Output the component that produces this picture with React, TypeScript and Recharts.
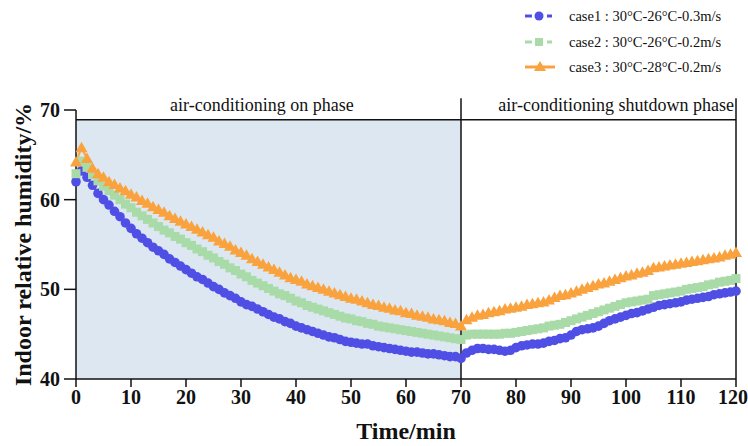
import React from "react";
import {
  LineChart,
  Line,
  XAxis,
  YAxis,
  ReferenceArea,
  ReferenceLine,
  Label,
} from "recharts";

const minutes = [
  0, 1, 2, 3, 4, 5, 6, 7, 8, 9, 10, 11, 12, 13, 14, 15, 16, 17, 18, 19, 20,
  21, 22, 23, 24, 25, 26, 27, 28, 29, 30, 31, 32, 33, 34, 35, 36, 37, 38, 39, 40,
  41, 42, 43, 44, 45, 46, 47, 48, 49, 50, 51, 52, 53, 54, 55, 56, 57, 58, 59, 60,
  61, 62, 63, 64, 65, 66, 67, 68, 69, 70, 71, 72, 73, 74, 75, 76, 77, 78, 79, 80,
  81, 82, 83, 84, 85, 86, 87, 88, 89, 90, 91, 92, 93, 94, 95, 96, 97, 98, 99, 100,
  101, 102, 103, 104, 105, 106, 107, 108, 109, 110, 111, 112, 113, 114, 115, 116,
  117, 118, 119, 120,
];

const case1 = [
  62.0, 63.2, 62.5, 61.6, 60.7, 60.0, 59.4, 58.7, 58.1, 57.4, 56.8,
  56.2, 55.7, 55.2, 54.7, 54.3, 53.9, 53.4, 53.0, 52.6, 52.2,
  51.8, 51.4, 51.1, 50.7, 50.3, 50.0, 49.6, 49.3, 49.0, 48.6,
  48.3, 48.1, 47.8, 47.5, 47.2, 46.9, 46.7, 46.4, 46.2, 45.9,
  45.7, 45.5, 45.3, 45.1, 44.9, 44.7, 44.6, 44.4, 44.2, 44.1,
  44.0, 43.9, 43.9, 43.7, 43.6, 43.5, 43.4, 43.3, 43.2, 43.1,
  43.0, 43.0, 42.9, 42.8, 42.8, 42.7, 42.6, 42.5, 42.5, 42.3,
  42.9, 43.2, 43.4, 43.4, 43.3, 43.3, 43.2, 43.1, 43.2, 43.5,
  43.7, 43.8, 43.9, 43.9, 44.0, 44.2, 44.3, 44.5, 44.6, 44.9,
  45.3, 45.5, 45.6, 45.7, 45.9, 46.2, 46.5, 46.7, 46.9, 47.1,
  47.3, 47.4, 47.6, 47.8, 48.0, 48.2, 48.3, 48.4, 48.5, 48.6,
  48.8, 48.9, 49.0, 49.1, 49.2, 49.4, 49.5, 49.6, 49.7, 49.8,
];

const case2 = [
  62.9, 64.3, 63.6, 62.8, 62.1, 61.5, 61.0, 60.5, 60.0, 59.5, 59.1,
  58.6, 58.2, 57.8, 57.4, 57.0, 56.6, 56.3, 55.9, 55.6, 55.2,
  54.9, 54.5, 54.2, 53.8, 53.5, 53.1, 52.8, 52.4, 52.1, 51.7,
  51.4, 51.0, 50.7, 50.4, 50.1, 49.8, 49.5, 49.3, 49.0, 48.7,
  48.5, 48.2, 48.0, 47.8, 47.6, 47.4, 47.2, 47.0, 46.8, 46.7,
  46.5, 46.4, 46.2, 46.1, 45.9, 45.8, 45.7, 45.6, 45.5, 45.4,
  45.3, 45.2, 45.1, 45.0, 44.9, 44.8, 44.7, 44.6, 44.5, 44.4,
  44.9, 45.0, 45.0, 45.0, 45.0, 45.0, 45.0, 45.1, 45.1, 45.2,
  45.3, 45.4, 45.5, 45.6, 45.7, 45.9, 46.0, 46.1, 46.3, 46.5,
  46.7, 46.9, 47.1, 47.3, 47.5, 47.7, 47.9, 48.1, 48.3, 48.5,
  48.6, 48.7, 48.8, 48.9, 49.3, 49.4, 49.5, 49.6, 49.7, 49.8,
  50.0, 50.1, 50.2, 50.3, 50.5, 50.6, 50.8, 50.9, 51.0, 51.2,
];

const case3 = [
  64.2, 65.8, 64.6, 63.5, 62.9, 62.5, 62.0, 61.7, 61.3, 61.0, 60.6,
  60.3, 59.9, 59.6, 59.2, 58.9, 58.6, 58.2, 57.9, 57.6, 57.3,
  57.0, 56.7, 56.4, 56.1, 55.8, 55.4, 55.1, 54.8, 54.4, 54.1,
  53.8, 53.4, 53.1, 52.8, 52.5, 52.2, 51.9, 51.6, 51.3, 51.1,
  50.9, 50.6, 50.4, 50.2, 50.0, 49.8, 49.6, 49.4, 49.2, 49.0,
  48.9, 48.7, 48.5, 48.3, 48.2, 48.0, 47.9, 47.7, 47.6, 47.4,
  47.3, 47.1, 47.0, 46.9, 46.7, 46.6, 46.5, 46.3, 46.2, 45.9,
  46.6, 46.9, 47.1, 47.2, 47.4, 47.5, 47.6, 47.8, 47.9, 48.0,
  48.1, 48.3, 48.4, 48.5, 48.6, 48.8, 49.1, 49.3, 49.4, 49.6,
  49.8, 50.0, 50.2, 50.4, 50.6, 50.7, 50.9, 51.1, 51.3, 51.5,
  51.6, 51.8, 51.9, 52.1, 52.4, 52.5, 52.6, 52.7, 52.8, 52.9,
  53.0, 53.1, 53.2, 53.3, 53.4, 53.5, 53.6, 53.8, 53.9, 54.1,
];

const xTicks = [0, 10, 20, 30, 40, 50, 60, 70, 80, 90, 100, 110, 120];
const yTicks = [40, 50, 60, 70];

const seriesNames = [
  "case1 : 30°C-26°C-0.3m/s",
  "case2 : 30°C-26°C-0.2m/s",
  "case3 : 30°C-28°C-0.2m/s",
];
const phaseLabels = ["air-conditioning on phase", "air-conditioning shutdown phase"];
const xTitle = "Time/min";
const yTitle = "Indoor relative humidity/%";

const BLUE = "#4f4fe6";
const GREEN = "#a9dba9";
const ORANGE = "#f9a23e";
const SHADE = "#dde7f1";
const SERIF = "'Liberation Serif', 'Times New Roman', serif";

const data = minutes.map((t, i) => ({
  t,
  case1: case1[i],
  case2: case2[i],
  case3: case3[i],
}));

const CircleDot = (props: any) => {
  const { cx, cy, index } = props;
  if (cx == null || cy == null) return <g key={`c-${index}`} />;
  return <circle key={`c-${index}`} cx={cx} cy={cy} r={4.8} fill={BLUE} />;
};

const SquareDot = (props: any) => {
  const { cx, cy, index } = props;
  if (cx == null || cy == null) return <g key={`s-${index}`} />;
  return <rect key={`s-${index}`} x={cx - 4.5} y={cy - 4.5} width={9} height={9} fill={GREEN} />;
};

const TriDot = (props: any) => {
  const { cx, cy, index } = props;
  if (cx == null || cy == null) return <g key={`t-${index}`} />;
  const s = 6;
  return (
    <polygon
      key={`t-${index}`}
      points={`${cx},${cy - s} ${cx - s},${cy + s * 0.75} ${cx + s},${cy + s * 0.75}`}
      fill={ORANGE}
    />
  );
};

const XTick = (props: any) => {
  const { x, y, payload } = props;
  const last = payload.value === 120;
  return (
    <text
      x={last ? 748 : x}
      y={y}
      dy="0.71em"
      textAnchor={last ? "end" : "middle"}
      fill="#111"
      fontSize={20}
      fontWeight="bold"
      fontFamily={SERIF}
    >
      {payload.value}
    </text>
  );
};

const LegendBlock = () => {
  const rows = [
    { name: seriesNames[0], color: BLUE, kind: "circle" },
    { name: seriesNames[1], color: GREEN, kind: "square" },
    { name: seriesNames[2], color: ORANGE, kind: "tri" },
  ];
  const tops = [16, 42, 67];
  return (
    <>
      {rows.map((r, i) => (
        <div key={r.name}>
          <svg
            width={34}
            height={16}
            style={{ position: "absolute", left: 522, top: tops[i] - 8 }}
          >
            {r.kind === "tri" ? (
              <line x1={3} y1={8} x2={33} y2={8} stroke={r.color} strokeWidth={3} />
            ) : (
              <>
                <line x1={3} y1={8} x2={10} y2={8} stroke={r.color} strokeWidth={3} />
                <line x1={25} y1={8} x2={30} y2={8} stroke={r.color} strokeWidth={3} />
              </>
            )}
            {r.kind === "circle" && <circle cx={17} cy={8} r={4.5} fill={r.color} />}
            {r.kind === "square" && <rect x={13} y={4} width={8} height={8} fill={r.color} />}
            {r.kind === "tri" && <polygon points="18,2 12,12 24,12" fill={r.color} />}
          </svg>
          <span
            style={{
              position: "absolute",
              left: 569,
              top: tops[i] - 9,
              fontFamily: SERIF,
              fontSize: 14.5,
              lineHeight: "18px",
              color: "#111",
              whiteSpace: "nowrap",
            }}
          >
            {r.name}
          </span>
        </div>
      ))}
    </>
  );
};

export default function App() {
  const axisStroke = { stroke: "#111", strokeWidth: 1.5 };
  return (
    <div style={{ position: "absolute", left: 0, top: 0, width: 748, height: 446, background: "#fff" }}>
      <LineChart
        width={748}
        height={446}
        data={data}
        margin={{ top: 110, right: 12, bottom: 37, left: 26 }}
      >
        <ReferenceArea
          x1={0}
          x2={70}
          y1={40}
          y2={68.9}
          fill={SHADE}
          fillOpacity={1}
          stroke="none"
          ifOverflow="visible"
        />
        <ReferenceArea
          x1={0}
          x2={67.6}
          y1={68.9}
          y2={72.2}
          fill="none"
          fillOpacity={0}
          stroke="none"
          ifOverflow="visible"
          label={{ value: phaseLabels[0], position: "center", fontSize: 18, fill: "#111", fontFamily: SERIF }}
        />
        <ReferenceArea
          x1={76.4}
          x2={120}
          y1={68.9}
          y2={72.2}
          fill="none"
          fillOpacity={0}
          stroke="none"
          ifOverflow="visible"
          label={{ value: phaseLabels[1], position: "center", fontSize: 18, fill: "#111", fontFamily: SERIF }}
        />
        <XAxis
          dataKey="t"
          type="number"
          domain={[0, 120]}
          ticks={xTicks}
          interval={0}
          axisLine={axisStroke}
          tickLine={axisStroke}
          tickSize={8}
          tickMargin={3}
          height={30}
          tick={<XTick />}
        >
          <Label
            value={xTitle}
            position="bottom"
            offset={13}
            style={{ fontSize: 24, fontWeight: "bold", fontFamily: SERIF, fill: "#111" }}
          />
        </XAxis>
        <YAxis
          type="number"
          domain={[40, 70]}
          ticks={yTicks}
          interval={0}
          width={50}
          axisLine={axisStroke}
          tickLine={axisStroke}
          tickSize={12}
          tickMargin={4}
          tick={{ fill: "#111", fontSize: 20, fontWeight: "bold", fontFamily: SERIF }}
        >
          <Label
            value={yTitle}
            angle={-90}
            position="insideLeft"
            offset={-4}
            style={{ fontSize: 24, fontWeight: "bold", fontFamily: SERIF, fill: "#111", textAnchor: "middle" }}
          />
        </YAxis>
        <ReferenceLine
          segment={[{ x: 0, y: 68.9 }, { x: 120, y: 68.9 }]}
          stroke="#111"
          strokeWidth={1.5}
          ifOverflow="visible"
        />
        <ReferenceLine
          segment={[{ x: 70, y: 40 }, { x: 70, y: 71.3 }]}
          stroke="#111"
          strokeWidth={1.5}
          ifOverflow="visible"
        />
        <ReferenceLine
          segment={[{ x: 120, y: 40 }, { x: 120, y: 71.3 }]}
          stroke="#111"
          strokeWidth={1.5}
          ifOverflow="visible"
        />
        <Line
          dataKey="case1"
          name={seriesNames[0]}
          stroke={BLUE}
          strokeWidth={2}
          dot={CircleDot}
          activeDot={false}
          isAnimationActive={false}
        />
        <Line
          dataKey="case2"
          name={seriesNames[1]}
          stroke={GREEN}
          strokeWidth={2}
          dot={SquareDot}
          activeDot={false}
          isAnimationActive={false}
        />
        <Line
          dataKey="case3"
          name={seriesNames[2]}
          stroke={ORANGE}
          strokeWidth={2}
          dot={TriDot}
          activeDot={false}
          isAnimationActive={false}
        />
      </LineChart>
      <LegendBlock />
    </div>
  );
}
